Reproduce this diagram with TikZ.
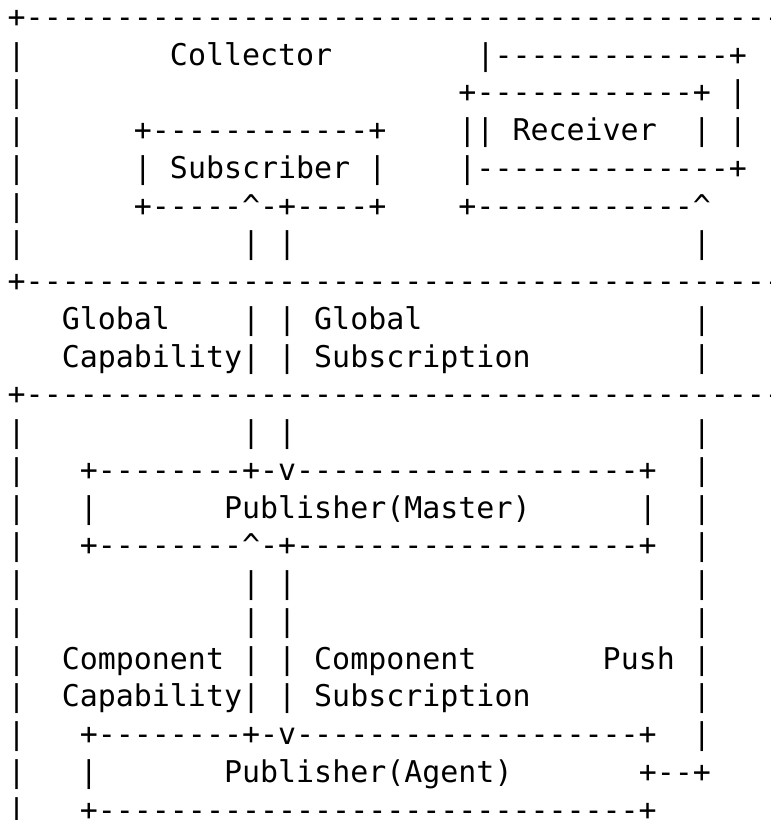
\documentclass[tikz,border=0pt]{standalone}
\usepackage{fontspec}
\setmonofont{DejaVu Sans Mono}
\newcommand\rowfont{\ttfamily\fontsize{29.95pt}{37.75pt}\selectfont}
\newcommand\up{\textasciicircum}
\tikzset{
  row/.style={anchor=base west, inner sep=0pt, outer sep=0pt, font=\rowfont, text=black}
}
\begin{document}
\begin{tikzpicture}[x=1pt,y=-1pt]
  \fill[white] (0,0) rectangle (771,820);
  \useasboundingbox (0,0) rectangle (771,820);
  % Collector
  \node[row] (r1)  at (7.7, 27.25) {+--------------------------------------------};
  \node[row] (r2)  at (7.7, 65.00) {|~~~~~~~~Collector~~~~~~~~|-------------+};
  \node[row] (r3)  at (7.7,102.75) {|~~~~~~~~~~~~~~~~~~~~~~~~+------------+~|};
  \node[row] (r4)  at (7.7,140.50) {|~~~~~~+------------+~~~~||~Receiver~~|~|};
  \node[row] (r5)  at (7.7,178.25) {|~~~~~~|~Subscriber~|~~~~|--------------+};
  \node[row] (r6)  at (7.7,216.00) {|~~~~~~+-----\up-+----+~~~~+------------\up};
  \node[row] (r7)  at (7.7,253.75) {|~~~~~~~~~~~~|~|~~~~~~~~~~~~~~~~~~~~~~|};
  \node[row] (r8)  at (7.7,291.50) {+--------------------------------------------};
  % Global interfaces
  \node[row] (r9)  at (7.7,329.25) {~~~Global~~~~|~|~Global~~~~~~~~~~~~~~~|};
  \node[row] (r10) at (7.7,367.00) {~~~Capability|~|~Subscription~~~~~~~~~|};
  \node[row] (r11) at (7.7,404.75) {+--------------------------------------------};
  % Publisher side
  \node[row] (r12) at (7.7,442.50) {|~~~~~~~~~~~~|~|~~~~~~~~~~~~~~~~~~~~~~|};
  \node[row] (r13) at (7.7,480.25) {|~~~+--------+-v-------------------+~~|};
  \node[row] (r14) at (7.7,518.00) {|~~~|~~~~~~~Publisher(Master)~~~~~~|~~|};
  \node[row] (r15) at (7.7,555.75) {|~~~+--------\up-+-------------------+~~|};
  \node[row] (r16) at (7.7,593.50) {|~~~~~~~~~~~~|~|~~~~~~~~~~~~~~~~~~~~~~|};
  \node[row] (r17) at (7.7,631.25) {|~~~~~~~~~~~~|~|~~~~~~~~~~~~~~~~~~~~~~|};
  \node[row] (r18) at (7.7,669.00) {|~~Component~|~|~Component~~~~~~~Push~|};
  \node[row] (r19) at (7.7,706.75) {|~~Capability|~|~Subscription~~~~~~~~~|};
  \node[row] (r20) at (7.7,744.50) {|~~~+--------+-v-------------------+~~|};
  \node[row] (r21) at (7.7,782.25) {|~~~|~~~~~~~Publisher(Agent)~~~~~~~+--+};
  \node[row] (r22) at (7.7,820.00) {|~~~+------------------------------+};
\end{tikzpicture}
\end{document}
